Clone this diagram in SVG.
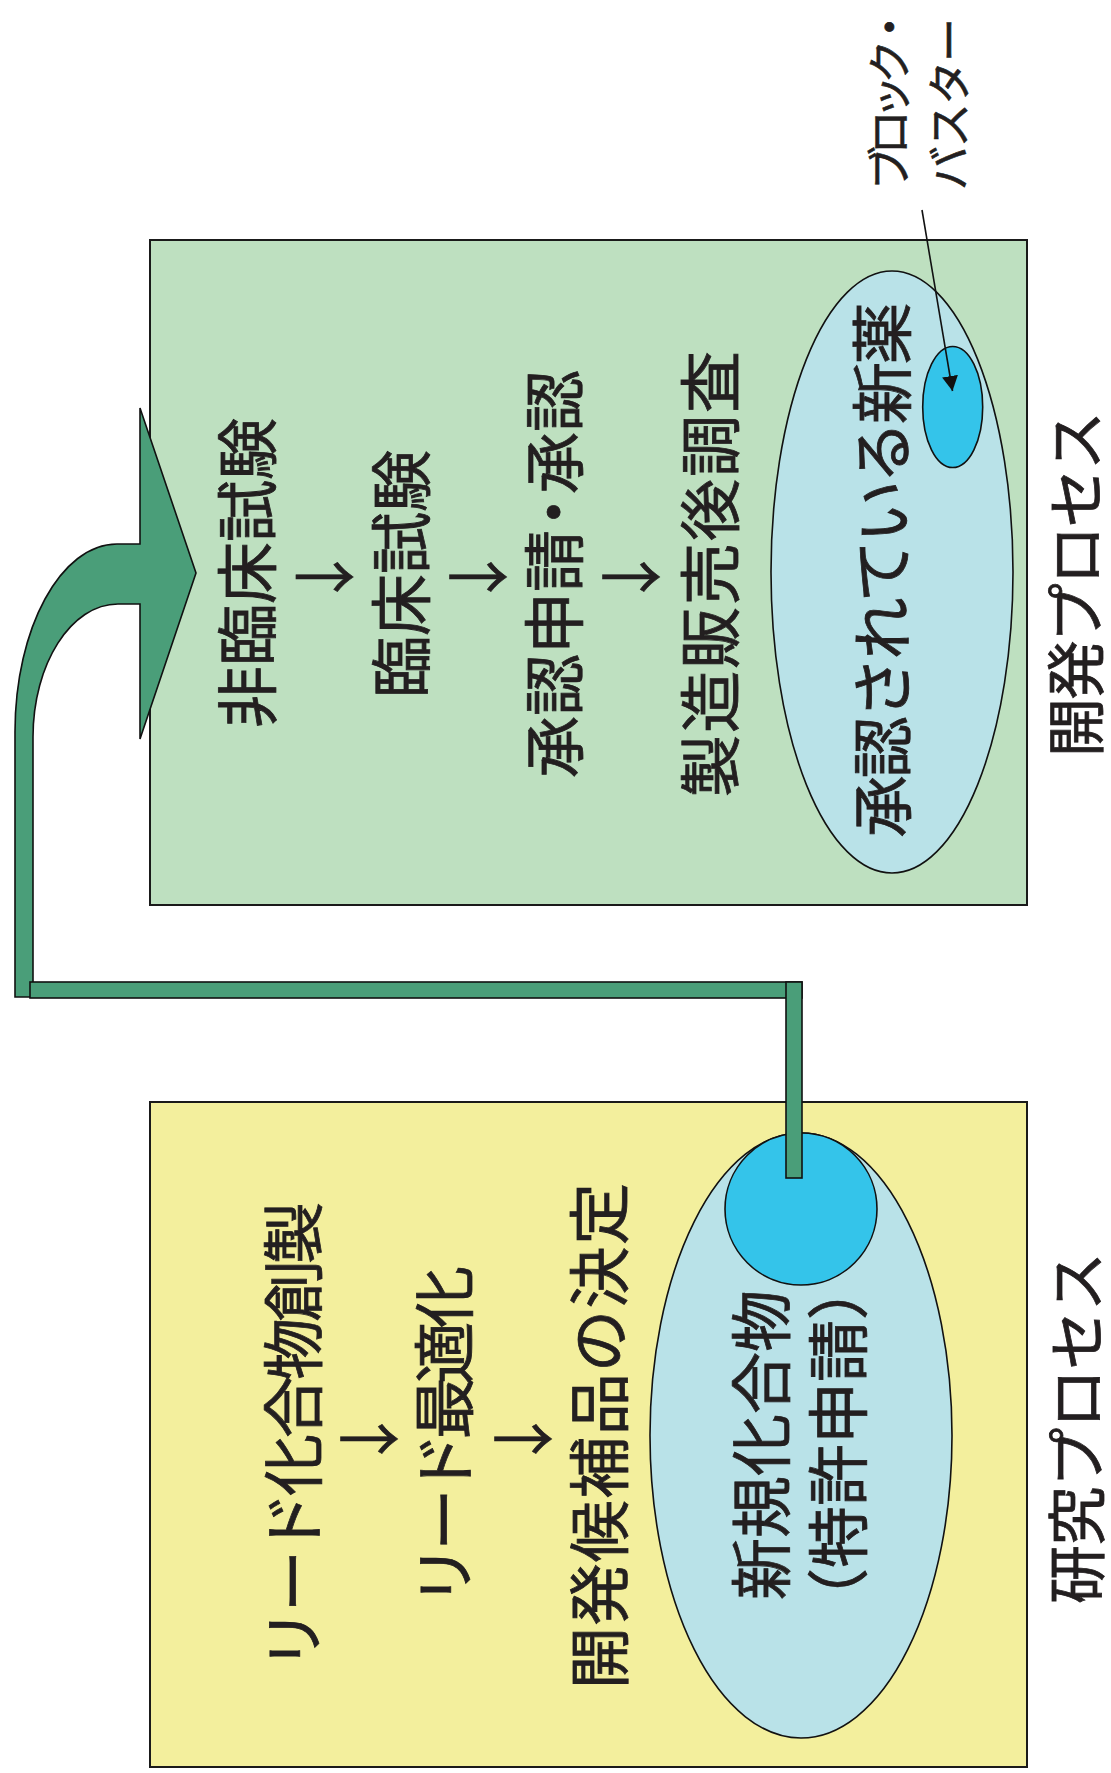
<svg xmlns="http://www.w3.org/2000/svg" width="1111" height="1773" viewBox="0 0 1111 1773">
<style>
.box{stroke:#1a1a1a;stroke-width:2}
.ell{stroke:#111;stroke-width:1.6}
.pipe{fill:#4a9e79;stroke:#111;stroke-width:1.6}
.t{font-family:"Liberation Sans","Noto Sans CJK JP",sans-serif;font-size:62px;fill:#231f20;stroke:#231f20;stroke-width:0.8;dominant-baseline:central;text-anchor:middle}
.arr{font-family:"Noto Sans CJK JP",sans-serif;font-size:62px;fill:#231f20;stroke:#231f20;stroke-width:0.6;dominant-baseline:central;text-anchor:middle}
.s{font-size:44px;stroke-width:0.6;text-anchor:start}
.l{font-size:59px}
</style>
<defs>
<marker id="ah" viewBox="0 0 10 10" refX="10" refY="5" markerWidth="15" markerHeight="16" markerUnits="userSpaceOnUse" orient="auto" preserveAspectRatio="none">
<path d="M0,0 L10,5 L0,10 z" fill="#111"/>
</marker>
</defs>
<rect width="1111" height="1773" fill="#fff"/>

<g id="dev-box">
<rect class="box" x="150" y="240" width="877" height="665" fill="#bee0c0"/>
</g>
<g id="research-box">
<rect class="box" x="150" y="1102" width="877" height="665" fill="#f3ef9d"/>
</g>
<g id="approved-drugs">
<ellipse class="ell" cx="892" cy="572" rx="121" ry="301" fill="#b9e2e8"/>
</g>
<g id="blockbuster">
<ellipse class="ell" cx="952.7" cy="407" rx="30" ry="60.5" fill="#34c4ea"/>
</g>
<g id="new-compounds">
<ellipse class="ell" cx="801" cy="1435.5" rx="151" ry="302.5" fill="#b9e2e8"/>
</g>
<g id="patent-circle">
<circle class="ell" cx="801" cy="1209" r="76" fill="#34c4ea"/>
</g>

<g id="connectors">
<path class="pipe" d="M15,997 L15,732 C15,628 61,544 117,544 L140,544 L140,408 L196,573 L140,739 L140,604 L118,604 C71,604 33,664 33,737 L33,997 Z"/>
<rect class="pipe" x="30" y="982" width="772" height="16"/>
<rect class="pipe" x="786" y="982" width="16" height="196"/>
<line x1="922" y1="210" x2="952.5" y2="391" stroke="#111" stroke-width="1.6" marker-end="url(#ah)"/>
</g>

<g id="dev-texts">
<text class="t" x="249" y="573" transform="rotate(-90 249 573)">非臨床試験</text>
<text class="arr" x="324.5" y="574">→</text>
<text class="t" x="403" y="574" transform="rotate(-90 403 574)">臨床試験</text>
<text class="arr" x="478" y="574">→</text>
<text class="t" x="556" y="574" transform="rotate(-90 556 574)">承認申請<tspan dx="-13">・</tspan><tspan dx="-13">承認</tspan></text>
<text class="arr" x="631" y="574">→</text>
<text class="t" x="712" y="574" textLength="446" transform="rotate(-90 712 574)">製造販売後調査</text>
<text class="t" x="884" y="570" textLength="535" transform="rotate(-90 884 570)">承認されている新薬</text>
<text class="t s" x="890" y="190" textLength="185" transform="rotate(-90 890 190)">ブロック・</text>
<text class="t s" x="950" y="190" textLength="172" transform="rotate(-90 950 190)">バスター</text>
<text class="t l" x="1078" y="584" textLength="346" transform="rotate(-90 1078 584)">開発プロセス</text>
</g>

<g id="research-texts">
<text class="t" x="295" y="1436" textLength="468" transform="rotate(-90 295 1436)">リード化合物創製</text>
<text class="arr" x="369" y="1436">→</text>
<text class="t" x="446" y="1436" textLength="340" transform="rotate(-90 446 1436)">リード最適化</text>
<text class="arr" x="523" y="1436">→</text>
<text class="t" x="601" y="1436" textLength="506" transform="rotate(-90 601 1436)">開発候補品の決定</text>
<text class="t" x="763" y="1445" transform="rotate(-90 763 1445)">新規化合物</text>
<text class="t" x="840" y="1444" transform="rotate(-90 840 1444)">（特許申請）</text>
<text class="t l" x="1079" y="1428" textLength="352" transform="rotate(-90 1079 1428)">研究プロセス</text>
</g>
</svg>
